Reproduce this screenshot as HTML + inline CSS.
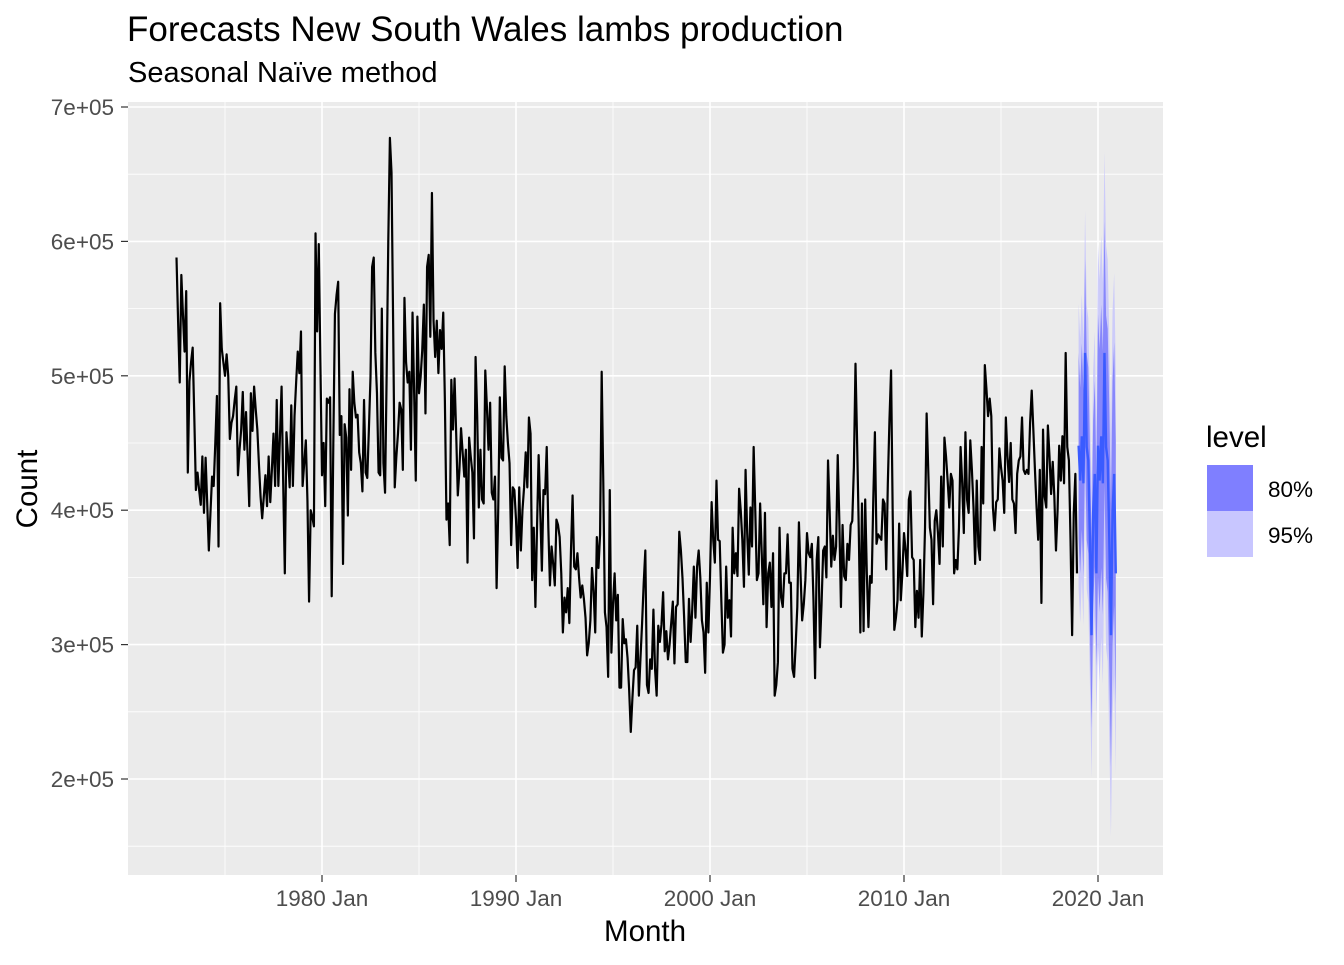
<!DOCTYPE html>
<html><head><meta charset="utf-8"><style>
body{margin:0;background:#fff;}
svg text{font-family:"Liberation Sans",Arial,sans-serif;}
</style></head><body>
<svg id="chart" width="1344" height="960" xmlns="http://www.w3.org/2000/svg">
<rect x="0" y="0" width="1344" height="960" fill="#fff"/>
<text x="127" y="41" font-size="35" fill="#000">Forecasts New South Wales lambs production</text>
<text x="128" y="82" font-size="29" fill="#000">Seasonal Naïve method</text>
<rect x="128" y="102" width="1035" height="773" fill="#ebebeb"/>
<g id="grid"></g>
<g id="bands"></g>
<g id="lines"></g>
<g id="axes"></g>
<text x="645" y="941" font-size="29.5" text-anchor="middle">Month</text>
<text x="0" y="0" font-size="29.5" text-anchor="middle" transform="translate(37,489) rotate(-90)">Count</text>
<g>
<text x="1206" y="447" font-size="29.5">level</text>
<rect x="1207" y="465" width="46" height="46" fill="#7f7fff"/>
<rect x="1207" y="511" width="46" height="46" fill="#c8c6ff"/>
<text x="1268" y="497" font-size="22.5">80%</text>
<text x="1268" y="543" font-size="22.5">95%</text>
</g>
</svg>
<script>
const startYear = 1972, startMonth = 7;
const countsK = [
588,540,495,575,545,518,563,428,496,510,521,470,415,428,415,404,440,398,439,405,370,398,425,418,450,485,373,554,520,510,500,516,500,453,465,470,482,492,426,445,460,488,445,473,440,403,487,459,492,475,460,434,410,394,410,426,403,440,406,430,457,418,482,418,455,492,420,353,458,440,417,478,418,470,495,518,502,533,418,435,452,407,332,400,395,388,606,533,598,510,426,450,403,483,480,484,336,450,546,560,570,456,470,360,464,454,396,490,430,503,480,
469,471,443,435,414,482,428,424,460,499,581,588,517,487,428,426,550,435,413,502,600,677,651,539,417,440,457,480,475,430,558,510,495,503,445,547,487,422,544,487,499,519,553,472,581,590,529,636,541,514,541,502,534,520,547,482,393,405,374,497,460,498,457,411,430,461,443,425,445,361,454,440,428,379,514,470,402,445,408,405,504,477,445,480,413,408,425,342,400,484,439,437,507,470,450,435,374,417,415,393,357,417,370,400,417,443,417,469,457,348,387,
328,387,441,400,355,415,412,447,387,344,373,360,344,393,389,380,353,309,335,324,342,316,370,411,358,356,368,350,335,344,334,320,292,301,318,357,340,309,380,357,382,503,420,324,313,276,415,294,330,353,318,337,268,268,319,301,304,290,266,235,260,281,283,314,262,290,316,346,370,270,264,289,282,326,282,262,314,302,315,339,295,310,289,300,316,332,286,328,330,384,370,349,320,287,287,334,302,326,358,320,358,370,350,318,309,279,346,309,350,406,
378,361,422,378,377,333,294,300,358,320,333,306,387,353,368,351,416,400,378,343,430,383,352,402,373,447,400,348,353,405,368,330,398,313,353,361,328,368,262,270,287,387,335,328,353,353,382,346,346,282,276,300,328,391,353,318,330,348,383,368,365,375,333,275,363,380,298,330,370,373,350,437,400,358,381,363,373,441,392,328,389,351,348,375,363,389,392,432,509,450,387,309,405,310,408,353,313,351,346,408,458,375,382,380,378,408,405,356,420,467,
504,398,311,320,333,390,333,353,383,370,351,408,414,365,363,313,340,320,363,306,338,387,472,430,387,378,330,392,400,383,360,425,373,454,440,422,402,427,422,353,363,356,387,447,420,383,458,408,398,452,430,402,360,422,373,363,447,405,508,490,470,483,470,402,385,406,408,446,432,422,398,469,440,421,450,408,405,383,427,437,440,469,430,427,430,427,465,489,460,430,402,378,430,331,460,410,402,463,440,412,436,410,370,400,448,422,455,420,517,447,437,378,307,398,427,353
];
const residSD = 54000;
const horizon = 24;
const levels = [95, 80];
const zScores = [1.96, 1.2816];
const yTicks = [200000,300000,400000,500000,600000,700000];
const yTickLabels = ["2e+05","3e+05","4e+05","5e+05","6e+05","7e+05"];
const xTicks = [1980,1990,2000,2010,2020];
const xTickLabels = ["1980 Jan","1990 Jan","2000 Jan","2010 Jan","2020 Jan"];

const NS="http://www.w3.org/2000/svg";
const X = t => 322 + (t-1980)*19.4;
const Y = v => 779 - (v-200000)*0.001344;
const L=128,R=1163,T=102,B=875;
function mk(tag, attrs, parent){const e=document.createElementNS(NS,tag);for(const k in attrs)e.setAttribute(k,attrs[k]);parent.appendChild(e);return e;}
const grid=document.getElementById('grid'), axes=document.getElementById('axes');
for(let i=0;i<yTicks.length;i++){
  const vm=yTicks[i]-50000; const ym=Y(vm);
  if(ym<B&&ym>T){const g=mk('line',{x1:L,x2:R,y1:ym,y2:ym,stroke:'#fff','stroke-width':0.8},grid);
  
  }
}
const yEnd=Y(yTicks[yTicks.length-1]+50000); if(yEnd>T){const g=mk('line',{x1:L,x2:R,y1:yEnd,y2:yEnd,stroke:'#fff','stroke-width':0.8},grid);}
for(let i=0;i<xTicks.length;i++){
  const xm=X(xTicks[i]-5);
  const g=mk('line',{x1:xm,x2:xm,y1:T,y2:B,stroke:'#fff','stroke-width':0.8},grid);
  
  
}
yTicks.forEach((v,i)=>{
  const y=Y(v);
  const g=mk('line',{x1:L,x2:R,y1:y,y2:y,stroke:'#fff','stroke-width':1.6},grid);
  
  
  const tk=mk('line',{x1:121,x2:128,y1:y,y2:y,stroke:'#333','stroke-width':1.2},axes);
  
  
  const t=mk('text',{x:114,y:y+8,'font-size':22.5,'text-anchor':'end',fill:'#4d4d4d'},axes);
  t.textContent=yTickLabels[i];
  
  
});
xTicks.forEach((v,i)=>{
  const x=X(v);
  const g=mk('line',{x1:x,x2:x,y1:T,y2:B,stroke:'#fff','stroke-width':1.6},grid);
  
  
  const tk=mk('line',{x1:x,x2:x,y1:B,y2:B+7,stroke:'#333','stroke-width':1.2},axes);
  
  
  const t=mk('text',{x:x,y:906,'font-size':22.5,'text-anchor':'middle',fill:'#4d4d4d'},axes);
  t.textContent=xTickLabels[i];
  
  
});
const tOf = i => startYear + (startMonth-1+i)/12;
const n=countsK.length;
let d='';
countsK.forEach((v,i)=>{d+=(i?'L':'M')+X(tOf(i)).toFixed(2)+','+Y(v*1000).toFixed(2);});
const line=mk('path',{d:d,fill:'none',stroke:'#000','stroke-width':2.2,'stroke-linejoin':'round'},document.getElementById('lines'));


const fc=[];
for(let h=1;h<=horizon;h++){fc.push(countsK[n-12+((h-1)%12)]*1000);}
const bandColors=['#c9c8fb','#8080fb'];
const bandsG=document.getElementById('bands');
levels.forEach((lv,li)=>{
  let up='',lo='';
  for(let h=1;h<=horizon;h++){
    const sd=residSD*Math.sqrt(Math.ceil(h/12));
    const x=X(tOf(n-1+h)).toFixed(2);
    up+=(h>1?'L':'M')+x+','+Y(fc[h-1]+zScores[li]*sd).toFixed(2);
    lo='L'+x+','+Y(fc[h-1]-zScores[li]*sd).toFixed(2)+lo;
  }
  const p=mk('path',{d:up+lo+'Z',fill:bandColors[li],'fill-opacity':0.9},bandsG);
  
  
});
let fd='';
fc.forEach((v,k)=>{fd+=(k?'L':'M')+X(tOf(n+k)).toFixed(2)+','+Y(v).toFixed(2);});
const fl=mk('path',{d:fd,fill:'none',stroke:'#3a5bff','stroke-width':2.4},document.getElementById('lines'));


</script>
</body></html>
